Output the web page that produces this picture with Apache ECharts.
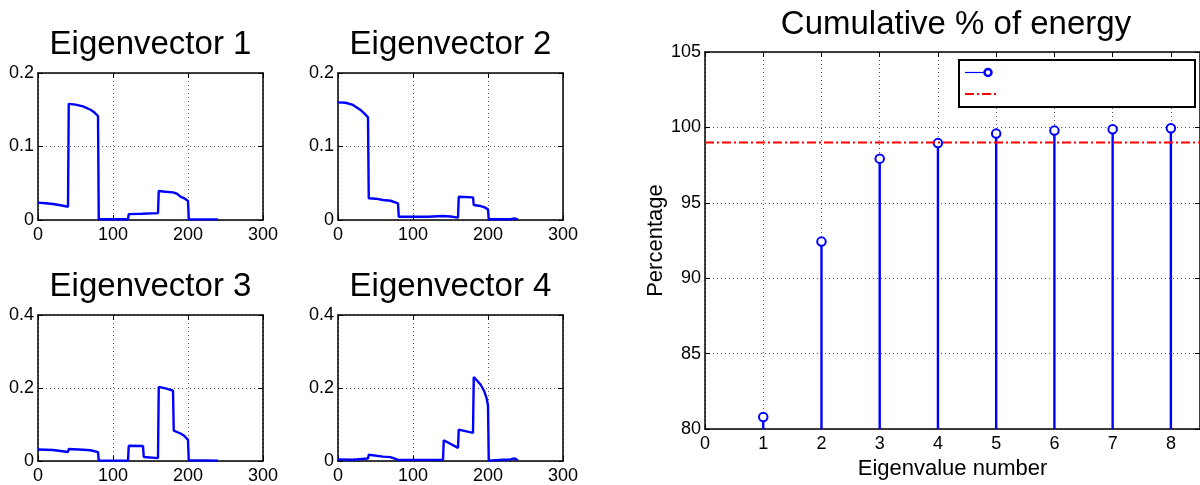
<!DOCTYPE html>
<html>
<head>
<meta charset="utf-8">
<script src="https://cdn.jsdelivr.net/npm/echarts@6/dist/echarts.min.js"></script>
<style>
  html, body { margin: 0; padding: 0; background: #fff; }
  #chart { width: 1200px; height: 485px; }
</style>
</head>
<body>
<div id="chart"></div>
<script>
// Eigenvector components, [sample index, value]
const eig1 = [[0,0.0236],[10,0.0228],[20,0.0218],[30,0.020],[40,0.018],[41,0.158],[50,0.157],[60,0.1545],[70,0.150],[75,0.1465],[80,0.1415],[81,0.001],[120,0.001],[121,0.008],[139,0.0085],[141,0.010],[160,0.0093],[161,0.0395],[170,0.0385],[180,0.0376],[182,0.038],[185,0.036],[190,0.0317],[195,0.0295],[200,0.026],[201,0.001],[240,0.0008]];
const eig2 = [[0,0.160],[10,0.1595],[20,0.1565],[30,0.1497],[35,0.145],[40,0.1397],[41,0.0295],[50,0.029],[60,0.0272],[62,0.029],[70,0.0262],[80,0.0227],[81,0.0045],[100,0.0045],[120,0.0045],[140,0.0055],[150,0.0048],[160,0.0032],[161,0.0317],[180,0.0308],[181,0.0204],[190,0.019],[195,0.0175],[200,0.0145],[201,0.001],[230,0.001],[235,0.002],[240,0.0008]];
const eig3 = [[0,0.0317],[20,0.030],[40,0.0245],[41,0.0327],[60,0.0308],[62,0.0318],[70,0.0295],[80,0.0245],[81,0.001],[120,0.001],[121,0.0417],[140,0.041],[141,0.011],[160,0.008],[161,0.203],[170,0.199],[180,0.193],[181,0.0834],[190,0.0753],[195,0.069],[200,0.058],[201,0.002],[240,0.001]];
const eig4 = [[0,0.0045],[20,0.0036],[22,0.007],[40,0.007],[41,0.017],[60,0.012],[62,0.015],[70,0.0105],[80,0.003],[81,0.001],[140,0.003],[141,0.057],[160,0.036],[161,0.086],[180,0.077],[181,0.230],[185,0.2213],[190,0.2095],[195,0.191],[198,0.173],[200,0.152],[201,0.001],[220,0.0036],[230,0.0045],[235,0.007],[240,0.002]];

const eigTitles = ['Eigenvector 1', 'Eigenvector 2', 'Eigenvector 3', 'Eigenvector 4'];
const eigYMax = [0.2, 0.2, 0.4, 0.4];
const eigYStep = [0.1, 0.1, 0.2, 0.2];
const eigXMax = 300;
const eigXStep = 100;

// Cumulative energy per eigenvalue
const eigenvalueNumbers = [1, 2, 3, 4, 5, 6, 7, 8];
const cumulativeEnergy = [80.8, 92.43, 97.93, 98.96, 99.59, 99.79, 99.88, 99.94];
const energyThreshold = 99;
const energyTitle = 'Cumulative % of energy';
const energyXName = 'Eigenvalue number';
const energyYName = 'Percentage';
const energyYMin = 80, energyYMax = 105, energyYStep = 5;
const energyXMin = 0, energyXMax = 8.5, energyXStep = 1;

// ---- layout and styles ----
const FONT = 'Liberation Sans';
const BLUE = '#0000ff';
const panels = [
  { left: 38, top: 73 },
  { left: 338, top: 73 },
  { left: 38, top: 315 },
  { left: 338, top: 315 }
];
const panelW = 225, panelH = 147;
const energyGrid = { left: 705, top: 52, width: 501.5, height: 382 };

const gridDots = { show: true, lineStyle: { color: '#5a5a5a', type: [1, 3], width: 1 } };
const axisLine = { show: true, onZero: false, lineStyle: { color: '#000', width: 1.5 } };
const axisTick = { show: true, inside: true, length: 5, lineStyle: { color: '#000', width: 1 } };
const labelStyle = { color: '#000', fontSize: 18, fontFamily: FONT };

const grids = [], xAxes = [], yAxes = [], series = [];

function addAxes(gi, xr, yr, opts) {
  opts = opts || {};
  const xi = xAxes.length, yi = yAxes.length;
  xAxes.push({
    type: 'value', gridIndex: gi, position: 'bottom', min: xr[0], max: xr[1], interval: xr[2],
    axisLine, axisTick, splitLine: gridDots,
    axisLabel: Object.assign({ margin: 6, showMaxLabel: opts.showMaxX !== false }, labelStyle),
    name: opts.xName || '', nameLocation: 'middle', nameGap: opts.xNameGap || 0,
    nameTextStyle: { color: '#000', fontSize: 22, fontFamily: FONT }
  });
  xAxes.push({
    type: 'value', gridIndex: gi, position: 'top', min: xr[0], max: xr[1], interval: xr[2],
    axisLine, axisTick, splitLine: { show: false }, axisLabel: { show: false }
  });
  yAxes.push({
    type: 'value', gridIndex: gi, position: 'left', min: yr[0], max: yr[1], interval: yr[2],
    axisLine, axisTick, splitLine: gridDots,
    axisLabel: Object.assign({ margin: 4 }, labelStyle),
    name: opts.yName || '', nameLocation: 'middle', nameRotate: 90, nameGap: opts.yNameGap || 0,
    nameTextStyle: { color: '#000', fontSize: 22, fontFamily: FONT }
  });
  yAxes.push({
    type: 'value', gridIndex: gi, position: 'right', min: yr[0], max: yr[1], interval: yr[2],
    axisLine, axisTick, splitLine: { show: false }, axisLabel: { show: false }
  });
  return { xi, yi };
}

const eigData = [eig1, eig2, eig3, eig4];
panels.forEach((p, i) => {
  grids.push({ left: p.left, top: p.top, width: panelW, height: panelH, containLabel: false });
  const ax = addAxes(i, [0, eigXMax, eigXStep], [0, eigYMax[i], eigYStep[i]]);
  series.push({
    type: 'line', xAxisIndex: ax.xi, yAxisIndex: ax.yi, data: eigData[i],
    symbol: 'none', lineStyle: { color: BLUE, width: 2.4 }, z: 5, clip: true
  });
});

grids.push(Object.assign({ containLabel: false }, energyGrid));
const eAx = addAxes(4, [energyXMin, energyXMax, energyXStep], [energyYMin, energyYMax, energyYStep],
  { showMaxX: false, xName: energyXName, xNameGap: 22, yName: energyYName, yNameGap: 38 });

const stemData = eigenvalueNumbers.map((n, i) => [n, cumulativeEnergy[i]]);

// stems from the axis floor up to each value
series.push({
  type: 'custom', xAxisIndex: eAx.xi, yAxisIndex: eAx.yi, data: stemData, z: 4,
  renderItem: function (params, api) {
    const top = api.coord([api.value(0), api.value(1)]);
    const base = api.coord([api.value(0), energyYMin]);
    return {
      type: 'line',
      shape: { x1: top[0], y1: top[1], x2: base[0], y2: base[1] },
      style: { stroke: BLUE, lineWidth: 2.4 }
    };
  }
});
series.push({
  type: 'scatter', xAxisIndex: eAx.xi, yAxisIndex: eAx.yi, data: stemData, z: 6,
  symbol: 'emptyCircle', symbolSize: 8.5,
  itemStyle: { color: BLUE, borderColor: BLUE, borderWidth: 2.5, opacity: 1 }
});
series.push({
  type: 'line', xAxisIndex: eAx.xi, yAxisIndex: eAx.yi, z: 7,
  data: [[energyXMin, energyThreshold], [energyXMax, energyThreshold]],
  symbol: 'none', lineStyle: { color: '#ff0000', width: 2, type: [9, 3, 2, 3] }
});

const titleStyle = { fill: '#000', fontSize: 33, fontFamily: FONT, align: 'center', verticalAlign: 'middle' };
const graphics = [];
panels.forEach((p, i) => {
  graphics.push({ type: 'text', x: p.left + panelW / 2, y: p.top - 28,
    style: Object.assign({ text: eigTitles[i] }, titleStyle) });
});
graphics.push({ type: 'text', x: 956, y: 25, style: Object.assign({ text: energyTitle }, titleStyle) });

// legend box (entries without labels)
graphics.push({ type: 'rect', z: 50, shape: { x: 959, y: 60, width: 236, height: 47 },
  style: { fill: '#fff', stroke: '#000', lineWidth: 2 } });
graphics.push({ type: 'line', z: 51, shape: { x1: 965, y1: 72.5, x2: 988, y2: 72.5 },
  style: { stroke: BLUE, lineWidth: 1.2 } });
graphics.push({ type: 'circle', z: 52, shape: { cx: 988, cy: 72.5, r: 3.5 },
  style: { fill: '#fff', stroke: BLUE, lineWidth: 2.5 } });
graphics.push({ type: 'line', z: 51, shape: { x1: 965, y1: 94, x2: 999, y2: 94 },
  style: { stroke: '#ff0000', lineWidth: 2, lineDash: [9, 3, 2, 3] } });

const chart = echarts.init(document.getElementById('chart'), null, { renderer: 'canvas' });
chart.setOption({
  animation: false,
  backgroundColor: '#fff',
  grid: grids,
  xAxis: xAxes,
  yAxis: yAxes,
  series: series,
  graphic: graphics
});
</script>
</body>
</html>
